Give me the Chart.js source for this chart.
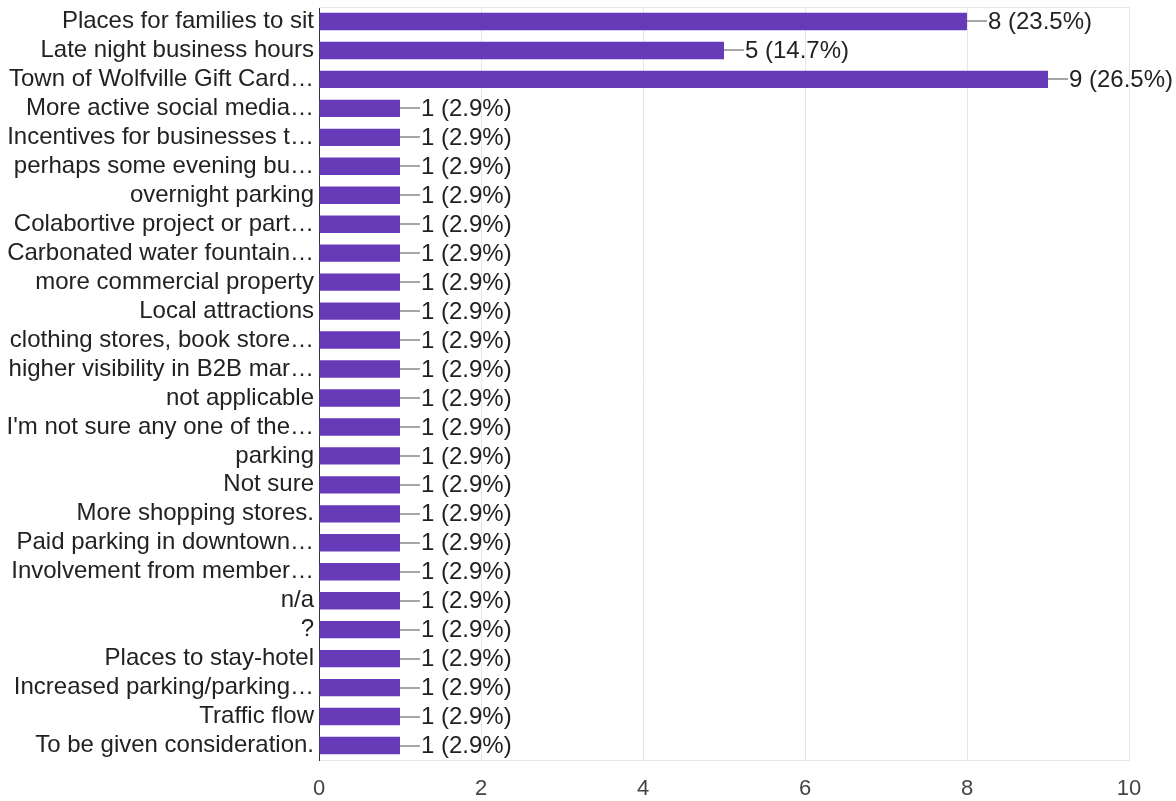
<!DOCTYPE html>
<html>
<head>
<meta charset="utf-8">
<script src="https://cdn.jsdelivr.net/npm/chart.js@4"></script>
<style>
  html, body { margin: 0; padding: 0; background: #fff; }
  #wrap { width: 1176px; height: 801px; }
</style>
</head>
<body>
<div id="wrap"><canvas id="chart"></canvas></div>
<script>
// Answers (as shown, truncated like the original)
var answers = [
    'Places for families to sit',
    'Late night business hours',
    'Town of Wolfville Gift Card\u2026',
    'More active social media\u2026',
    'Incentives for businesses t\u2026',
    'perhaps some evening bu\u2026',
    'overnight parking',
    'Colabortive project or part\u2026',
    'Carbonated water fountain\u2026',
    'more commercial property',
    'Local attractions',
    'clothing stores, book store\u2026',
    'higher visibility in B2B mar\u2026',
    'not applicable',
    "I'm not sure any one of the\u2026",
    'parking',
    'Not sure',
    'More shopping stores.',
    'Paid parking in downtown\u2026',
    'Involvement from member\u2026',
    'n/a',
    '?',
    'Places to stay-hotel',
    'Increased parking/parking\u2026',
    'Traffic flow',
    'To be given consideration.'
];

// Number of responses per answer
var counts = [8, 5, 9, 1, 1, 1, 1, 1, 1, 1, 1, 1, 1, 1, 1, 1, 1, 1, 1, 1, 1, 1, 1, 1, 1, 1];

// X axis ticks
var xTicks = [0, 2, 4, 6, 8, 10];

var totalResponses = 34;
var fontFamily = '"Liberation Sans", Arial, Helvetica, sans-serif';

// Draws the "—8 (23.5%)" labels next to each bar
var valueLabels = {
    id: 'valueLabels',
    afterDatasetsDraw: function(chart) {
        var ctx = chart.ctx;
        var meta = chart.getDatasetMeta(0);
        ctx.save();
        ctx.font = '24px ' + fontFamily;
        ctx.textBaseline = 'middle';
        ctx.textAlign = 'left';
        for (var i = 0; i < meta.data.length; i++) {
            var bar = meta.data[i];
            var v = counts[i];
            var pct = (v / totalResponses * 100).toFixed(1);
            ctx.strokeStyle = '#8a8a8a';
            ctx.lineWidth = 1.5;
            ctx.beginPath();
            ctx.moveTo(bar.x, Math.round(bar.y));
            ctx.lineTo(bar.x + 20, Math.round(bar.y));
            ctx.stroke();
            ctx.fillStyle = '#222222';
            ctx.fillText(v + ' (' + pct + '%)', bar.x + 21, bar.y + 1);
        }
        ctx.restore();
    }
};

// Light border along the top of the plot area
var topBorder = {
    id: 'topBorder',
    beforeDatasetsDraw: function(chart) {
        var a = chart.chartArea;
        var ctx = chart.ctx;
        ctx.save();
        ctx.strokeStyle = '#e6e6e6';
        ctx.lineWidth = 1;
        ctx.beginPath();
        ctx.moveTo(a.left, a.top + 0.5);
        ctx.lineTo(a.right, a.top + 0.5);
        ctx.stroke();
        ctx.restore();
    }
};

var ctx = document.getElementById('chart').getContext('2d');
new Chart(ctx, {
    type: 'bar',
    data: {
        labels: answers,
        datasets: [{
            data: counts,
            backgroundColor: '#673ab7',
            borderWidth: 0,
            categoryPercentage: 0.6,
            barPercentage: 1.0
        }]
    },
    options: {
        indexAxis: 'y',
        responsive: true,
        maintainAspectRatio: false,
        animation: false,
        layout: { padding: { top: 7, right: 47, bottom: 0, left: 0 } },
        plugins: {
            legend: { display: false },
            tooltip: { enabled: false }
        },
        scales: {
            x: {
                min: 0,
                max: 10,
                afterBuildTicks: function(scale) {
                    scale.ticks = xTicks.map(function(v) { return { value: v }; });
                },
                grid: {
                    color: '#e6e6e6',
                    drawTicks: false
                },
                border: { display: true, color: '#e6e6e6' },
                ticks: {
                    color: '#444444',
                    padding: 16,
                    font: { family: fontFamily, size: 22 }
                },
                afterFit: function(scale) {
                    scale.height = 41;
                    scale.paddingLeft = 0;
                    scale.paddingRight = 0;
                }
            },
            y: {
                grid: { display: false, drawTicks: false },
                border: { display: true, color: '#333333', width: 1 },
                ticks: {
                    color: '#222222',
                    padding: 5,
                    autoSkip: false,
                    font: { family: fontFamily, size: 24 }
                },
                afterFit: function(scale) {
                    scale.width = 319;
                    scale.paddingTop = 0;
                    scale.paddingBottom = 0;
                }
            }
        }
    },
    plugins: [valueLabels, topBorder]
});
</script>
</body>
</html>
